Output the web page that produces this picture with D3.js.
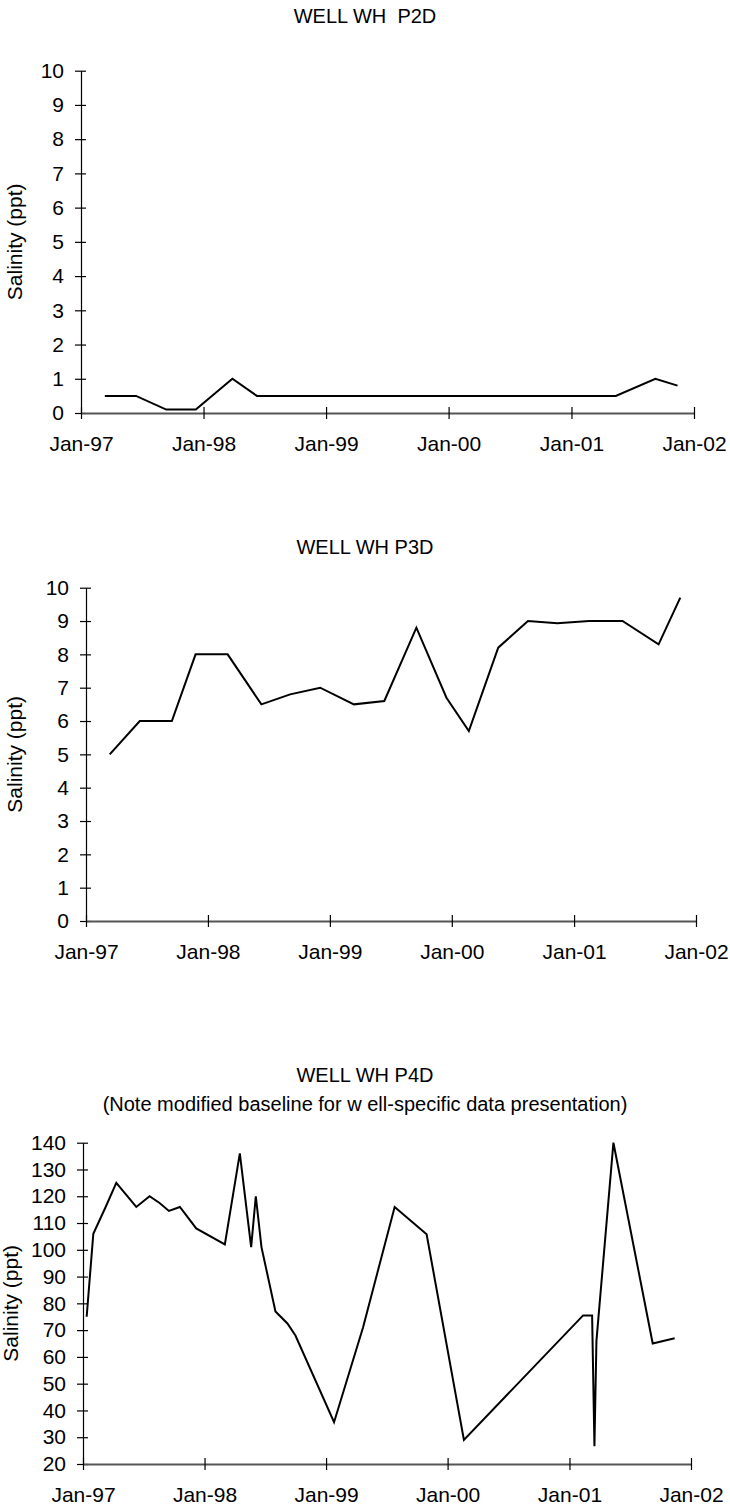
<!DOCTYPE html>
<html>
<head>
<meta charset="utf-8">
<script src="https://cdn.jsdelivr.net/npm/d3@7"></script>
<style>
  html, body { margin: 0; padding: 0; background: #fff; }
  svg { display: block; }
  text { font-family: "Liberation Sans", Arial, sans-serif; fill: #000; }
</style>
</head>
<body>
<svg id="chart" width="730" height="1507"></svg>
<script>
// Salinity readings (ppt) for three monitoring wells, 1997-2001
const p2dDates = ["1997-03-13","1997-06-14","1997-09-12","1997-12-09","1998-03-28","1998-06-09",
  "1998-09-05","1998-12-03","1999-03-14","1999-06-13","1999-09-17","1999-12-16","2000-02-19",
  "2000-05-19","2000-08-16","2000-11-12","2001-02-15","2001-05-13","2001-09-08","2001-11-13"];
const p2dValues = [0.5,0.5,0.1,0.1,1.0,0.5,
  0.5,0.5,0.5,0.5,0.5,0.5,0.5,
  0.5,0.5,0.5,0.5,0.5,1.0,0.8];

const p3dDates = ["1997-03-13","1997-06-11","1997-09-15","1997-11-25","1998-03-01","1998-06-10",
  "1998-09-04","1998-12-03","1999-03-14","1999-06-13","1999-09-17","1999-12-16","2000-02-21",
  "2000-05-19","2000-08-16","2000-11-12","2001-02-15","2001-05-26","2001-09-11","2001-11-15"];
const p3dValues = [5.0,6.0,6.0,8.0,8.0,6.5,
  6.8,7.0,6.5,6.6,8.8,6.7,5.7,
  8.2,9.0,8.93,9.0,9.0,8.3,9.7];

const p4dDates = ["1997-01-12","1997-02-01","1997-03-10","1997-04-11","1997-06-10","1997-07-20",
  "1997-08-19","1997-09-16","1997-10-19","1997-12-07","1998-03-03","1998-04-17","1998-05-21",
  "1998-06-04","1998-06-21","1998-08-02","1998-09-07","1998-10-01","1999-01-25","1999-04-22",
  "1999-07-26","1999-10-30","2000-02-19","2001-02-11","2001-03-10","2001-03-17","2001-03-23",
  "2001-05-13","2001-09-08","2001-11-13"];
const p4dValues = [75,106,116,125,116,120,
  117.5,114.5,116,108,102,136,101,
  120,101,77,72.5,68,35.6,71,
  116,105.8,29,75.5,75.5,26.6,66,
  140,65,67];

const yearTicks = ["1997-01-01","1998-01-01","1999-01-01","2000-01-01","2001-01-01","2002-01-01"];
const ticksLow = [0,1,2,3,4,5,6,7,8,9,10];
const ticksHigh = [20,30,40,50,60,70,80,90,100,110,120,130,140];

const wellTitles = [["WELL WH  P2D"], ["WELL WH P3D"],
  ["WELL WH P4D", "(Note modified baseline for w ell-specific data presentation)"]];
const yTitle = "Salinity (ppt)";

const parse = d3.timeParse("%Y-%m-%d");
const fmt = d3.timeFormat("%b-%y");
const tickDates = yearTicks.map(parse);

// panel geometry
const panels = [
  { dates: p2dDates, values: p2dValues, domain: [0, 10], ticks: ticksLow,
    x0: 81, x1: 694, yb: 413, yt: 70.7, titles: wellTitles[0], titleY: [23], yTitleX: 15 },
  { dates: p3dDates, values: p3dValues, domain: [0, 10], ticks: ticksLow,
    x0: 86, x1: 696, yb: 921, yt: 587.7, titles: wellTitles[1], titleY: [554], yTitleX: 15 },
  { dates: p4dDates, values: p4dValues, domain: [20, 140], ticks: ticksHigh,
    x0: 83, x1: 691, yb: 1464, yt: 1142.7, titles: wellTitles[2], titleY: [1082, 1111], yTitleX: 11 }
];

const svg = d3.select("#chart");
const FS = 21;

panels.forEach(p => {
  const x = d3.scaleTime().domain([tickDates[0], tickDates[tickDates.length - 1]]).range([p.x0, p.x1]);
  const y = d3.scaleLinear().domain(p.domain).range([p.yb, p.yt]);
  const g = svg.append("g");

  // titles
  p.titles.forEach((t, i) => {
    g.append("text").attr("x", 365).attr("y", p.titleY[i])
      .attr("text-anchor", "middle").style("white-space", "pre")
      .attr("font-size", 20).text(t);
  });

  // y axis
  const ya = g.append("g").attr("transform", `translate(${p.x0},0)`)
    .call(d3.axisLeft(y).tickValues(p.ticks).tickSizeOuter(0).tickFormat(d3.format("d")));
  ya.select(".domain").attr("stroke", "#000").attr("stroke-width", 1.2);
  ya.selectAll(".tick line").attr("x1", 5).attr("x2", -6).attr("stroke", "#000").attr("stroke-width", 1.2);
  ya.selectAll(".tick text").attr("x", -17).attr("font-size", FS)
    .attr("font-family", "Liberation Sans, Arial, sans-serif").attr("fill", "#000");

  // x axis
  const xa = g.append("g").attr("transform", `translate(0,${p.yb})`)
    .call(d3.axisBottom(x).tickValues(tickDates).tickSizeOuter(0).tickFormat(fmt));
  xa.select(".domain").attr("stroke", "#555").attr("stroke-width", 2);
  xa.selectAll(".tick line").attr("y1", -6).attr("y2", 6).attr("stroke", "#000").attr("stroke-width", 1.2);
  xa.selectAll(".tick text").attr("y", 23).attr("font-size", FS)
    .attr("font-family", "Liberation Sans, Arial, sans-serif").attr("fill", "#000");

  // y axis title
  g.append("text")
    .attr("transform", `translate(${p.yTitleX},${(p.yb + p.yt) / 2}) rotate(-90)`)
    .attr("text-anchor", "middle").attr("dy", "0.35em")
    .attr("font-size", FS).text(yTitle);

  // salinity series
  const pts = p.dates.map((d, i) => [parse(d), p.values[i]]);
  g.append("path").datum(pts)
    .attr("fill", "none").attr("stroke", "#000").attr("stroke-width", 2)
    .attr("stroke-linejoin", "miter")
    .attr("d", d3.line().x(d => x(d[0])).y(d => y(d[1])));
});
</script>
</body>
</html>
